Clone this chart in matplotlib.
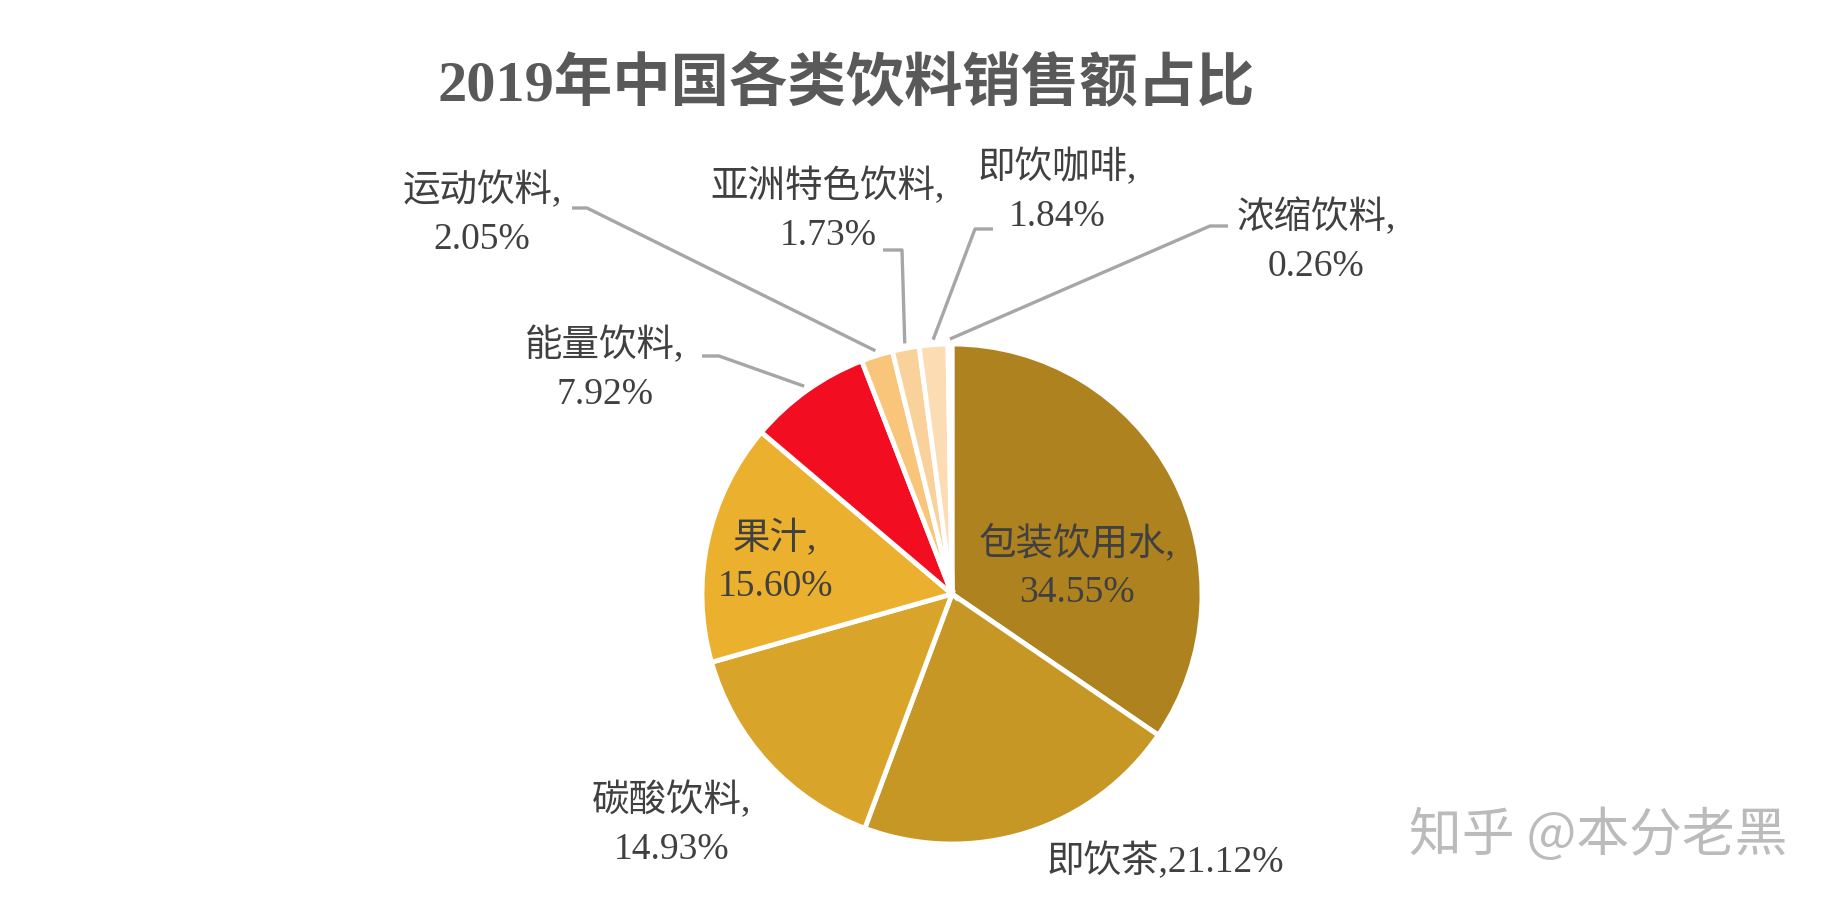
import matplotlib
matplotlib.use("Agg")
import numpy as np
import matplotlib.pyplot as plt

W, H = 1842, 910

title = '2019年中国各类饮料销售额占比'
categories = ['包装饮用水', '即饮茶', '碳酸饮料', '果汁', '能量饮料',
              '运动饮料', '亚洲特色饮料', '即饮咖啡', '浓缩饮料']
shares = [34.55, 21.12, 14.93, 15.60, 7.92, 2.05, 1.73, 1.84, 0.26]
colors = ['#AF8220', '#C79726', '#D9A42A', '#EBB12E', '#F20D20',
          '#F8C57A', '#F9D19A', '#FBDCB3', '#FDEAD2']

# label centre (pixels from top-left) and leader elbow points (text end -> elbow)
label_pos = {
    '包装饮用水': (1077, 567),
    '即饮茶': (1165, 861),
    '碳酸饮料': (672, 824),
    '果汁': (775, 562),
    '能量饮料': (605, 369),
    '运动饮料': (482, 214),
    '亚洲特色饮料': (828, 210),
    '即饮咖啡': (1057, 191),
    '浓缩饮料': (1316, 241),
}
leaders = {
    '能量饮料': [(702, 356), (719, 356)],
    '运动饮料': [(572, 208), (587, 208)],
    '亚洲特色饮料': [(883, 250), (902, 250)],
    '即饮咖啡': [(993, 229), (975, 229)],
    '浓缩饮料': [(1228, 226), (1210, 226)],
}

cx, cy, r = 952, 594, 250
fonts = ['Liberation Serif', 'Noto Sans CJK SC']

fig = plt.figure(figsize=(W / 100, H / 100), dpi=100)
ax = fig.add_axes([0, 0, 1, 1])

wedges, _ = ax.pie(shares, colors=colors, startangle=90, counterclock=False,
                   center=(cx, H - cy), radius=r,
                   wedgeprops=dict(edgecolor='white', linewidth=3.5))
ax.set_xlim(0, W)
ax.set_ylim(0, H)
ax.set_aspect('auto')
ax.axis('off')

for w, cat, val in zip(wedges, categories, shares):
    x, y = label_pos[cat]
    if cat == '即饮茶':
        txt = f'{cat},{val:.2f}%'
    else:
        txt = f'{cat},\n{val:.2f}%'
    ax.text(x, H - y, txt, ha='center', va='center', fontsize=27,
            color='#404040', family=fonts, linespacing=1.5)
    if cat in leaders:
        mid = np.deg2rad((w.theta1 + w.theta2) / 2)
        ax_pt = (cx + r * 1.02 * np.cos(mid), H - cy + r * 1.02 * np.sin(mid))
        pts = [(px, H - py) for px, py in leaders[cat]] + [ax_pt]
        xs, ys = zip(*pts)
        ax.plot(xs, ys, color='#A6A6A6', lw=2.4, solid_capstyle='butt')

ax.text(846, H - 85, title, ha='center', va='center', fontsize=42,
        fontweight='bold', color='#595959', family=fonts)

ax.text(1598, H - 836, '知乎 @本分老黑', ha='center', va='center', fontsize=38,
        color='#BBBBBB', family=['Noto Sans CJK SC', 'DejaVu Sans'])

fig.savefig('out.png', dpi=100, facecolor='white')
